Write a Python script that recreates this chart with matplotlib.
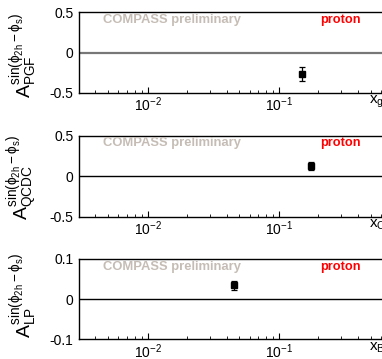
import matplotlib

matplotlib.use("Agg")
import matplotlib.pyplot as plt
import numpy as np

# values, one point per panel
x_pgf = [0.149]
y_pgf = [-0.26]
e_pgf = [0.085]

x_qcdc = [0.175]
y_qcdc = [0.127]
e_qcdc = [0.05]

x_lp = [0.0453]
y_lp = [0.034]
e_lp = [0.012]

process_labels = ["PGF", "QCDC", "LP"]
x_labels = ["g", "C", "Bj"]
y_limits = [(-0.5, 0.5), (-0.5, 0.5), (-0.1, 0.1)]
y_ticks = [[-0.5, 0, 0.5], [-0.5, 0, 0.5], [-0.1, 0, 0.1]]
y_ticklabels = [["-0.5", "0", "0.5"], ["-0.5", "0", "0.5"], ["-0.1", "0", "0.1"]]

plt.rcParams["font.family"] = ["Liberation Sans", "DejaVu Sans"]
plt.rcParams["mathtext.fontset"] = "custom"
plt.rcParams["mathtext.rm"] = "Liberation Sans"
plt.rcParams["mathtext.it"] = "Liberation Sans"
plt.rcParams["mathtext.bf"] = "Liberation Sans:bold"
plt.rcParams["mathtext.fallback"] = "stixsans"
plt.rcParams["axes.unicode_minus"] = False

W, H = 382, 359
fig = plt.figure(figsize=(W / 100, H / 100), dpi=100)

# (top, bottom) of each panel in pixels, and where each y title ends
panel_px = [(12.5, 93.0), (135.7, 216.7), (259.0, 339.3)]
label_bottom_px = [98, 220, 338]
left_px, right_px = 79, 410
data = [(x_pgf, y_pgf, e_pgf), (x_qcdc, y_qcdc, e_qcdc), (x_lp, y_lp, e_lp)]
zero_styles = [("#777777", 1.6), ("black", 1.0), ("black", 1.0)]

for i, (top, bot) in enumerate(panel_px):
    ax = fig.add_axes([left_px / W, 1 - bot / H, (right_px - left_px) / W, (bot - top) / H])
    ax.set_xscale("log")
    ax.set_xlim(0.003, 1.0)
    ax.set_ylim(*y_limits[i])
    ax.set_yticks(y_ticks[i])
    ax.set_yticklabels(y_ticklabels[i])
    ax.tick_params(axis="y", length=0, pad=4, labelsize=10)
    ax.tick_params(axis="x", which="major", direction="in", length=4, width=0.8, pad=2, labelsize=10)
    ax.tick_params(axis="x", which="minor", direction="in", length=2, width=0.6)
    ax.yaxis.set_minor_locator(matplotlib.ticker.NullLocator())
    for s in ax.spines.values():
        s.set_linewidth(1.0)

    col, lw = zero_styles[i]
    ax.axhline(0, color=col, lw=lw, zorder=1)

    xs, ys, es = data[i]
    ax.errorbar(xs, ys, yerr=es, fmt="s", color="black", ms=5, capsize=2, elinewidth=0.9, capthick=0.9, zorder=3)

    ax.text(0.072, 0.905, "COMPASS preliminary", transform=ax.transAxes, color="#c5bdb5",
            fontsize=9.4, fontweight="bold", va="center", ha="left")
    ax.text(0.728, 0.905, "proton", transform=ax.transAxes, color="red",
            fontsize=9.2, fontweight="bold", va="center", ha="left")

    ylab = r"$\mathrm{A}_{\mathrm{%s}}^{\mathrm{sin}(\mathrm{\phi}_{\mathrm{2h}}-\mathrm{\phi}_{\mathrm{s}})}$" % process_labels[i]
    fig.text(40 / W, 1 - label_bottom_px[i] / H, ylab, rotation=90, ha="right", va="bottom", fontsize=14)

    fig.text(369 / W, 1 - (bot + 1) / H, r"$\mathrm{x}_{\mathrm{%s}}$" % x_labels[i], ha="left", va="top", fontsize=11)

fig.savefig("out.png", dpi=100)
